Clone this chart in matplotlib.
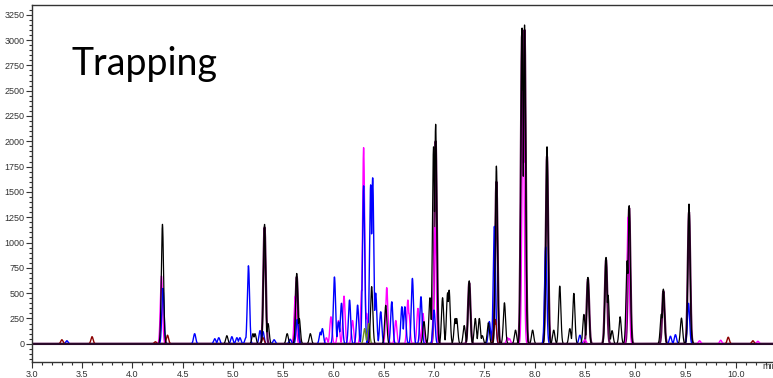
import numpy as np
import matplotlib
matplotlib.use('Agg')
from matplotlib import pyplot as plt
from matplotlib.ticker import MultipleLocator

# peak tables: retention time (min), height
black_rt = [4.30, 4.94, 5.20, 5.22, 5.315, 5.35, 5.54, 5.635, 5.66, 5.77,
            6.38, 6.52, 6.90, 6.96, 6.995, 7.016, 7.085, 7.135, 7.15, 7.21, 7.225,
            7.30, 7.35, 7.41, 7.45, 7.48, 7.54, 7.62, 7.70, 7.81, 7.875, 7.90,
            7.98, 8.123, 8.19, 8.25, 8.35, 8.39, 8.49, 8.53, 8.71, 8.73, 8.77,
            8.85, 8.92, 8.94, 9.26, 9.28, 9.46, 9.535, 9.55]
black_h = [1180, 80, 100, 100, 1180, 200, 100, 695, 250, 100,
           565, 380, 220, 455, 1946, 2168, 455, 504, 530, 250, 250,
           180, 622, 250, 250, 80, 207, 1755, 405, 135, 3120, 3150,
           135, 1946, 135, 570, 150, 498, 290, 656, 853, 480, 130,
           267, 820, 1364, 293, 540, 254, 1380, 150]

purple_rt = [5.315, 5.635, 7.016, 7.35, 7.62, 7.875, 7.90, 8.123, 8.53, 8.71, 8.94, 9.28, 9.535]
purple_h = [1150, 660, 2000, 600, 1600, 3050, 3100, 1850, 640, 830, 1340, 520, 1300]

magenta_rt = [4.29, 5.62, 5.93, 5.975, 6.05, 6.105, 6.19, 6.28, 6.30, 6.33, 6.53, 6.62,
              6.74, 6.75, 6.84, 6.89, 7.01, 7.73, 7.75, 7.885, 8.50, 8.93, 9.64, 9.85,
              10.22]
magenta_h = [670, 470, 60, 267, 230, 471, 230, 530, 1937, 300, 555, 230,
             432, 300, 350, 300, 1150, 60, 50, 2500, 40, 1250, 30, 35,
             25]

blue_rt = [3.35, 4.305, 4.62, 4.82, 4.86, 4.99, 5.04, 5.07, 5.13, 5.155, 5.27, 5.30,
           5.41, 5.57, 5.64, 5.87, 5.89, 6.01, 6.05, 6.08, 6.16, 6.24, 6.30, 6.37,
           6.39, 6.42, 6.47, 6.58, 6.68, 6.71, 6.785, 6.87, 7.00, 7.55, 7.60, 8.11,
           8.45, 9.35, 9.40, 9.53]
blue_h = [30, 547, 100, 50, 60, 70, 60, 60, 60, 771, 130, 120,
          40, 45, 240, 115, 150, 660, 217, 400, 432, 382, 1560, 1570,
          1640, 500, 316, 415, 366, 366, 646, 465, 333, 220, 1160, 958,
          85, 75, 90, 400]

darkred_rt = [3.30, 3.60, 4.23, 4.35, 5.30, 7.60, 7.61, 9.925, 10.17]
darkred_h = [40, 70, 20, 85, 60, 190, 240, 65, 30]

green_rt = [6.31, 6.35]
green_h = [150, 200]

t = np.linspace(3.0, 10.4, 8000)


def trace(rts, hs, sigma=0.011):
    # each peak as a gaussian; overlapping peaks take the upper envelope
    y = np.zeros_like(t)
    for rt, h in zip(rts, hs):
        y = np.maximum(y, h * np.exp(-0.5 * ((t - rt) / sigma) ** 2))
    return y


fig = plt.figure(figsize=(7.73, 3.78), dpi=100)
ax = fig.add_axes([0.041, 0.042, 0.959, 0.945])

ax.plot(t, trace(purple_rt, purple_h, 0.012), color='#5c0a52', lw=1.6)
ax.plot(t, trace(magenta_rt, magenta_h), color='#ff00ff', lw=1.0)
ax.plot(t, trace(blue_rt, blue_h), color='#0000ff', lw=1.0)
ax.plot(t, trace(darkred_rt, darkred_h), color='#8b0000', lw=1.0)
ax.plot(t, trace(green_rt, green_h), color='#6b8e23', lw=1.0)
ax.plot(t, trace(black_rt, black_h), color='black', lw=0.9)
ax.axhline(0, color='#2a0a2a', lw=1.5)

ax.set_xlim(3.0, 10.37)
ax.set_ylim(-181, 3347)
ax.xaxis.set_major_locator(MultipleLocator(0.5))
ax.xaxis.set_minor_locator(MultipleLocator(0.1))
ax.yaxis.set_major_locator(MultipleLocator(250))
ax.yaxis.set_minor_locator(MultipleLocator(50))
ax.xaxis.set_major_formatter(matplotlib.ticker.FormatStrFormatter('%.1f'))
ax.tick_params(which='both', direction='out', colors='#333333', labelsize=6.5,
               labelcolor='#333333', width=0.8)
ax.tick_params(which='major', length=4, pad=2)
ax.tick_params(which='minor', length=2.5)
ax.tick_params(axis='y', pad=1)
for s in ['left', 'top', 'bottom']:
    ax.spines[s].set_color('#333333')
    ax.spines[s].set_linewidth(1.0)
ax.spines['right'].set_visible(False)

ax.text(10.26, -0.0, 'min', transform=ax.get_xaxis_transform(), ha='left', va='top',
        fontsize=6.5, color='#333333', family='Liberation Sans')
for lab in ax.get_xticklabels() + ax.get_yticklabels():
    lab.set_family('Liberation Sans')

fig.text(71 / 773, 1 - 75 / 378, 'Trapping', fontsize=27, family='Lato',
         va='baseline', ha='left')

fig.savefig('out.png', dpi=100)
